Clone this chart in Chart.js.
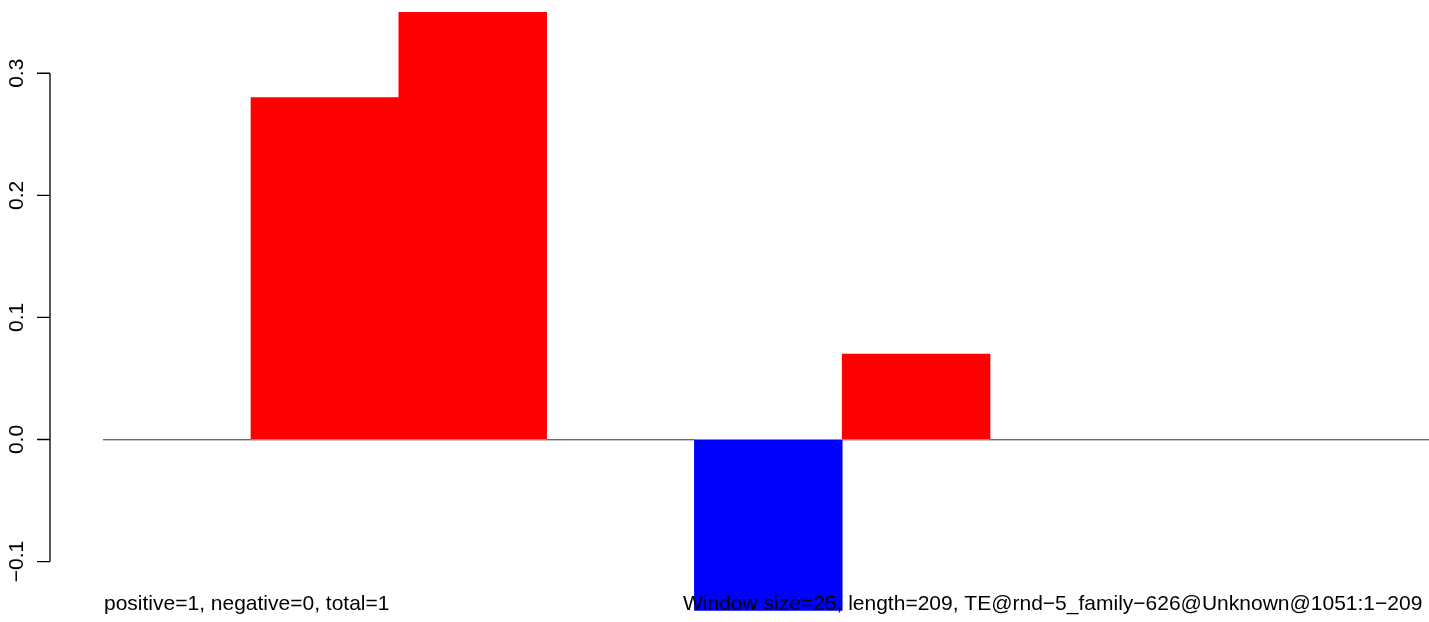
<!DOCTYPE html>
<html>
<head>
<meta charset="utf-8">
<script src="https://cdn.jsdelivr.net/npm/chart.js@4/dist/chart.umd.min.js"></script>
<style>
  html, body { margin: 0; padding: 0; background: #fff; overflow: hidden; }
  canvas { display: block; }
</style>
</head>
<body>
<canvas id="chart" width="1429" height="622"></canvas>
<script>
// === DATA ===
const windows = [1, 2, 3, 4, 5, 6, 7, 8, 9];
const scores = [0, 0.28, 0.35, 0, -0.14, 0.07, 0, 0, 0];
const yTicks = [-0.1, 0.0, 0.1, 0.2, 0.3];
const yTickLabels = ['\u22120.1', '0.0', '0.1', '0.2', '0.3'];
const noteLeft = 'positive=1, negative=0, total=1';
const noteRight = 'Window size=25, length=209, TE@rnd\u22125_family\u2212626@Unknown@1051:1\u2212209';

const FONT = '21px "Liberation Sans", Arial, Helvetica, sans-serif';

// === R-style axis + bottom notes ===
const rAxis = {
    id: 'rAxis',
    afterDraw(chart) {
        const ctx = chart.ctx;
        const y = chart.scales.y;
        const top = y.getPixelForValue(yTicks[yTicks.length - 1]);
        const bot = y.getPixelForValue(yTicks[0]);
        ctx.save();
        ctx.strokeStyle = '#000';
        ctx.lineWidth = 1.3;
        ctx.beginPath();
        ctx.moveTo(50, top);
        ctx.lineTo(50, bot);
        yTicks.forEach(v => {
            const py = y.getPixelForValue(v);
            ctx.moveTo(37, py);
            ctx.lineTo(50, py);
        });
        ctx.stroke();

        ctx.fillStyle = '#000';
        ctx.font = FONT;
        ctx.textAlign = 'center';
        ctx.textBaseline = 'alphabetic';
        yTicks.forEach((v, i) => {
            const py = y.getPixelForValue(v);
            ctx.save();
            ctx.translate(22.5, py);
            ctx.rotate(-Math.PI / 2);
            ctx.fillText(yTickLabels[i], 0, 0);
            ctx.restore();
        });

        ctx.textAlign = 'left';
        ctx.fillText(noteLeft, 104, 609.5);
        ctx.fillText(noteRight, 683, 609.5);
        ctx.restore();
    }
};

new Chart(document.getElementById('chart'), {
    type: 'bar',
    data: {
        datasets: [{
            data: windows.map((w, i) => ({ x: w - 0.5, y: scores[i] })),
            backgroundColor: scores.map(v => v < 0 ? '#0000ff' : '#ff0000'),
            borderWidth: 0,
            barPercentage: 1,
            categoryPercentage: 1
        }]
    },
    options: {
        responsive: false,
        animation: false,
        layout: { padding: { left: 103.2, right: 0, top: 0, bottom: 0 } },
        plugins: { legend: { display: false }, tooltip: { enabled: false } },
        scales: {
            x: {
                type: 'linear',
                display: false,
                offset: false,
                grid: { offset: false },
                min: 0,
                max: 8.97,
                afterBuildTicks: s => { s.ticks = windows.map(w => ({ value: w - 0.5 })); }
            },
            y: {
                min: -0.1495,
                max: 0.36,
                z: 1,
                afterBuildTicks: s => { s.ticks = [{ value: 0 }]; },
                ticks: { display: false },
                border: { display: false },
                grid: { color: '#8c8c8c', lineWidth: 1.5, drawTicks: false }
            }
        }
    },
    plugins: [rAxis]
});
</script>
</body>
</html>
